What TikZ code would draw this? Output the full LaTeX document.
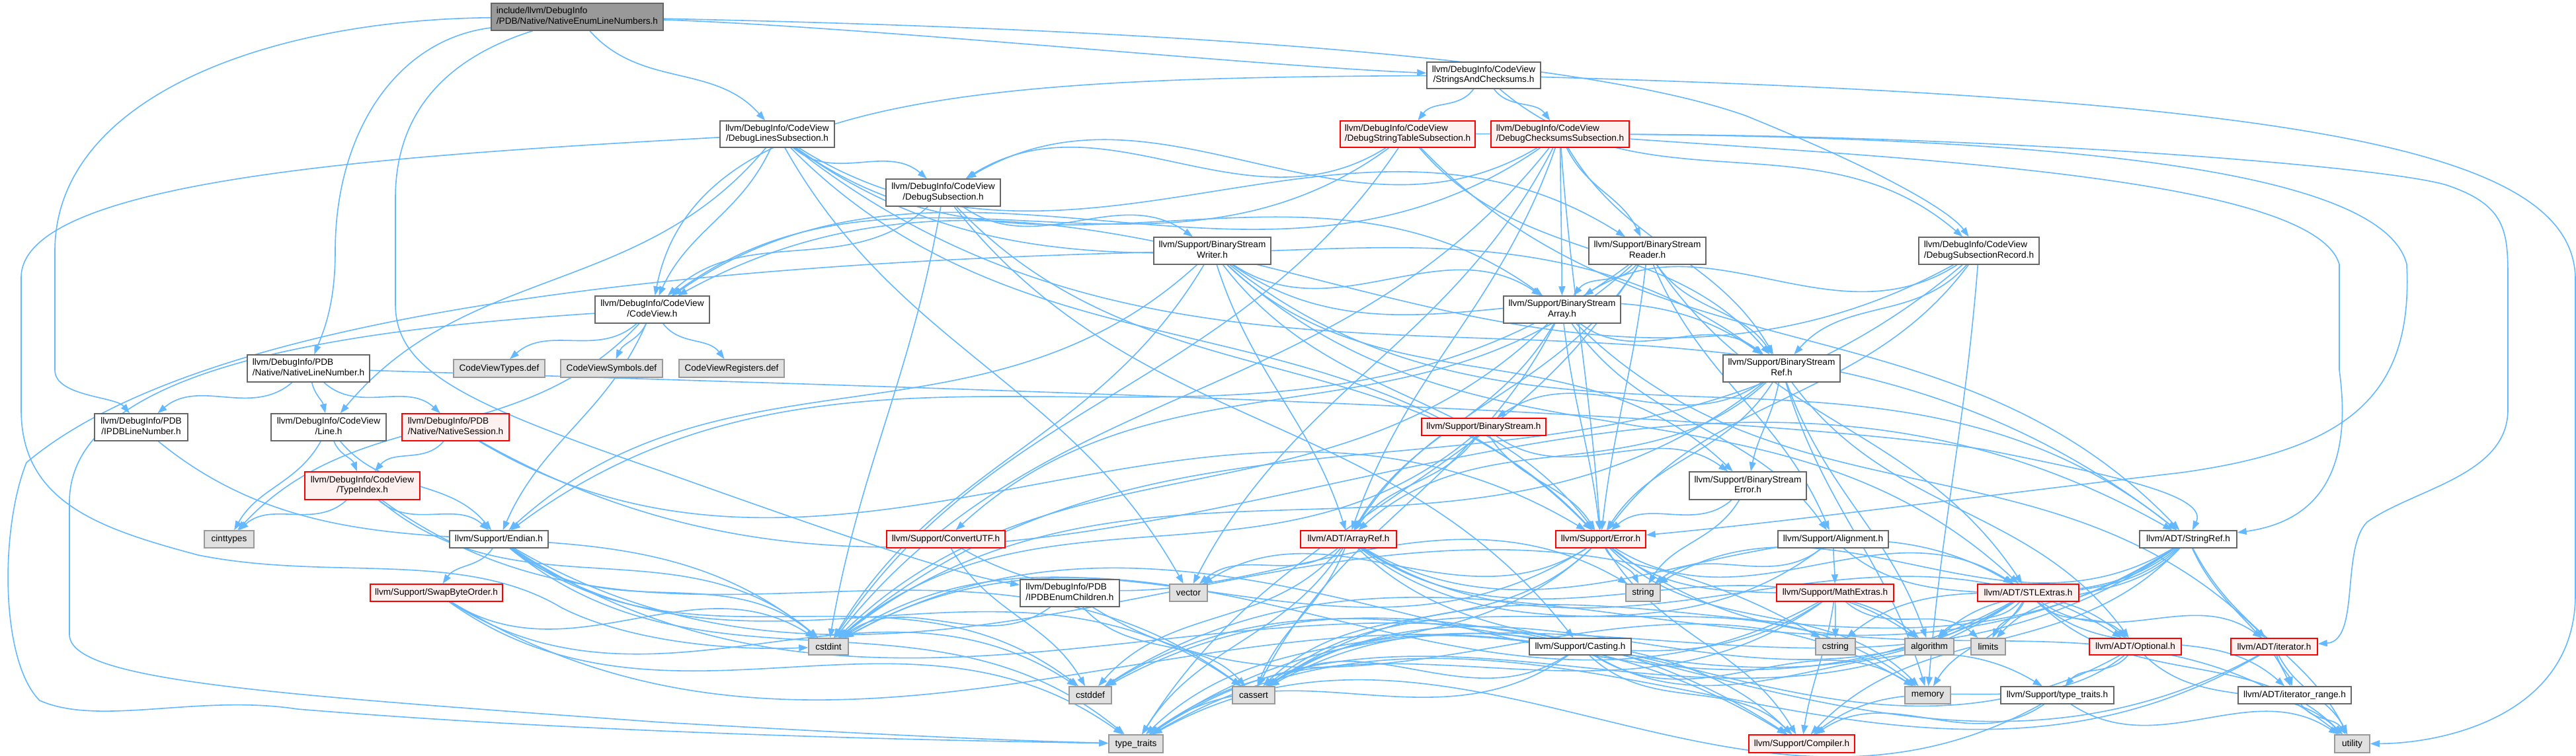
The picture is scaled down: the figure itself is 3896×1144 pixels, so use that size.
\documentclass[tikz,border=0pt]{standalone}
\usepackage{fontspec}
\setmainfont{Liberation Sans}
\usetikzlibrary{arrows.meta}
\definecolor{edgeblue}{HTML}{63B8FF}
\definecolor{redfill}{HTML}{FFF0F0}
\definecolor{grayfill}{HTML}{E0E0E0}
\definecolor{rootfill}{HTML}{999999}
\definecolor{borderdark}{HTML}{666666}
\definecolor{bordergray}{HTML}{999999}
\pgfdeclarelayer{bgwhite}
\pgfdeclarelayer{edges}
\pgfsetlayers{bgwhite,edges,main}
\newdimen\eax \newdimen\eay \newdimen\ebx \newdimen\eby
\newcommand\gedge[3][]{%
  \pgfextractx{\eax}{\pgfpointanchor{#2}{center}}%
  \pgfextracty{\eay}{\pgfpointanchor{#2}{center}}%
  \pgfextractx{\ebx}{\pgfpointanchor{#3}{center}}%
  \pgfextracty{\eby}{\pgfpointanchor{#3}{center}}%
  \pgfmathsetmacro\eang{atan2(\eby-\eay,\ebx-\eax)}%
  \pgfmathsetmacro\eout{0.7*\eang-27}%
  \pgfmathsetmacro\ein{0.7*(\eang+180)+27}%
  \draw[edge] (#2) to[out=\eout,in=\ein,#1] (#3);}
\newcommand\twoline[2]{\begin{tabular}{@{}l@{}}#1\\\multicolumn{1}{@{}c@{}}{#2}\end{tabular}}
\newcommand\gnode[7]{%
  \pgfmathsetmacro\nw{(#5-#3)*0.1}\pgfmathsetmacro\nh{(#6-#4)*0.1}%
  \pgfmathsetmacro\ncx{(#3+#5)/2}\pgfmathsetmacro\ncy{(#4+#6)/2}%
  \node[#1,minimum width=\nw pt,minimum height=\nh pt] (#2) at (\ncx,\ncy) {#7};}
\tikzset{
  nb/.style={draw=borderdark,fill=white,line width=0.15pt,inner sep=0pt,
    font=\fontsize{1.36}{1.55}\selectfont},
  nr/.style={nb,draw=red,fill=redfill},
  ng/.style={nb,draw=bordergray,fill=grayfill},
  nroot/.style={nb,fill=rootfill},
  edge/.style={draw=edgeblue,line width=0.16pt,-{Triangle[length=1.4pt,width=1.0pt]}},
}
\renewcommand\arraystretch{1}
\begin{document}
\begin{tikzpicture}[x=0.1pt,y=-0.1pt]
\useasboundingbox (0,0) rectangle (3896,1144);
\begin{pgfonlayer}{bgwhite}
\fill[white] (0,0) rectangle (3896,1144);
\end{pgfonlayer}
% ---------- nodes
\gnode{nroot}{root}{743}{5}{1003}{46}{\twoline{include/llvm/DebugInfo}{/PDB/Native/NativeEnumLineNumbers.h}}
\gnode{nb}{sac}{2158}{94}{2330}{134}{\twoline{llvm/DebugInfo/CodeView}{/StringsAndChecksums.h}}
\gnode{nb}{dls}{1089}{183}{1262}{223}{\twoline{llvm/DebugInfo/CodeView}{/DebugLinesSubsection.h}}
\gnode{nr}{dsts}{2027}{183}{2231}{223}{\twoline{llvm/DebugInfo/CodeView}{/DebugStringTableSubsection.h}}
\gnode{nr}{dcs}{2255}{183}{2464}{223}{\twoline{llvm/DebugInfo/CodeView}{/DebugChecksumsSubsection.h}}
\gnode{nb}{ds}{1340}{271}{1513}{312}{\twoline{llvm/DebugInfo/CodeView}{/DebugSubsection.h}}
\gnode{nb}{bsw}{1745}{359}{1922}{400}{\twoline{llvm/Support/BinaryStream}{Writer.h}}
\gnode{nb}{bsr}{2403}{359}{2580}{400}{\twoline{llvm/Support/BinaryStream}{Reader.h}}
\gnode{nb}{dsr}{2902}{359}{3084}{400}{\twoline{llvm/DebugInfo/CodeView}{/DebugSubsectionRecord.h}}
\gnode{nb}{cv}{900}{448}{1073}{489}{\twoline{llvm/DebugInfo/CodeView}{/CodeView.h}}
\gnode{nb}{bsa}{2274}{448}{2451}{489}{\twoline{llvm/Support/BinaryStream}{Array.h}}
\gnode{ng}{cvt}{686}{544}{824}{571}{CodeViewTypes.def}
\gnode{ng}{cvs}{848}{544}{1002}{571}{CodeViewSymbols.def}
\gnode{ng}{cvr}{1027}{544}{1186}{571}{CodeViewRegisters.def}
\gnode{nb}{nln}{374}{537}{559}{578}{\twoline{llvm/DebugInfo/PDB}{/Native/NativeLineNumber.h}}
\gnode{nb}{bsref}{2606}{537}{2783}{578}{\twoline{llvm/Support/BinaryStream}{Ref.h}}
\gnode{nb}{ipdbln}{143}{626}{284}{667}{\twoline{llvm/DebugInfo/PDB}{/IPDBLineNumber.h}}
\gnode{nb}{line}{410}{626}{584}{667}{\twoline{llvm/DebugInfo/CodeView}{/Line.h}}
\gnode{nr}{ns}{608}{626}{770}{667}{\twoline{llvm/DebugInfo/PDB}{/Native/NativeSession.h}}
\gnode{nr}{bs}{2150}{633}{2338}{659}{llvm/Support/BinaryStream.h}
\gnode{nr}{ti}{461}{714}{635}{756}{\twoline{llvm/DebugInfo/CodeView}{/TypeIndex.h}}
\gnode{nb}{bse}{2555}{714}{2732}{756}{\twoline{llvm/Support/BinaryStream}{Error.h}}
\gnode{ng}{cint}{309}{803}{384}{829}{cinttypes}
\gnode{nb}{endian}{680}{803}{829}{829}{llvm/Support/Endian.h}
\gnode{nr}{cutf}{1341}{803}{1520}{829}{llvm/Support/ConvertUTF.h}
\gnode{nr}{aref}{1967}{803}{2112}{829}{llvm/ADT/ArrayRef.h}
\gnode{nr}{err}{2353}{803}{2489}{829}{llvm/Support/Error.h}
\gnode{nb}{align}{2689}{803}{2856}{829}{llvm/Support/Alignment.h}
\gnode{nb}{sref}{3236}{803}{3383}{829}{llvm/ADT/StringRef.h}
\gnode{nr}{sbo}{560}{884}{760}{910}{llvm/Support/SwapByteOrder.h}
\gnode{nb}{ipdbec}{1543}{877}{1693}{918}{\twoline{llvm/DebugInfo/PDB}{/IPDBEnumChildren.h}}
\gnode{ng}{vec}{1769}{884}{1826}{910}{vector}
\gnode{ng}{str}{2459}{884}{2511}{910}{string}
\gnode{nr}{mext}{2687}{884}{2864}{910}{llvm/Support/MathExtras.h}
\gnode{nr}{stl}{2991}{884}{3144}{910}{llvm/ADT/STLExtras.h}
\gnode{ng}{cstdint}{1223}{966}{1283}{991}{cstdint}
\gnode{nb}{cast}{2313}{966}{2467}{991}{llvm/Support/Casting.h}
\gnode{ng}{cstring}{2746}{966}{2806}{991}{cstring}
\gnode{ng}{algo}{2881}{966}{2955}{991}{algorithm}
\gnode{ng}{limits}{2981}{966}{3033}{991}{limits}
\gnode{nr}{opt}{3160}{966}{3299}{991}{llvm/ADT/Optional.h}
\gnode{nr}{iter}{3374}{966}{3505}{991}{llvm/ADT/iterator.h}
\gnode{ng}{cstddef}{1617}{1039}{1681}{1065}{cstddef}
\gnode{ng}{cassert}{1864}{1039}{1928}{1065}{cassert}
\gnode{ng}{memory}{2881}{1039}{2950}{1065}{memory}
\gnode{nb}{stt}{3026}{1039}{3197}{1065}{llvm/Support/type\_traits.h}
\gnode{nb}{irange}{3385}{1039}{3556}{1065}{llvm/ADT/iterator\_range.h}
\gnode{ng}{tt}{1677}{1112}{1759}{1139}{type\_traits}
\gnode{nr}{comp}{2645}{1112}{2805}{1139}{llvm/Support/Compiler.h}
\gnode{ng}{util}{3531}{1112}{3584}{1139}{utility}
% ---------- edges
\begin{pgfonlayer}{edges}
% root
\gedge{root}{dls}
\draw[edge] (root) .. controls (1300,40) and (1900,100) .. (sac);
\draw[edge] (root) .. controls (400,30) and (83,150) .. (83,380) -- (83,560) .. controls (83,600) and (175,600) .. (ipdbln);
\draw[edge] (root) .. controls (600,60) and (507,200) .. (507,380) .. controls (507,460) and (490,500) .. (nln);
\draw[edge] (root) .. controls (700,80) and (598,150) .. (598,300) -- (598,460) .. controls (598,560) and (700,610) .. (1000,713) .. controls (1300,820) and (1450,870) .. (ipdbec);
\draw[edge] (root) .. controls (1800,45) and (2400,90) .. (2640,175) .. controls (2850,260) and (2950,320) .. (dsr);
% sac
\gedge{sac}{dsts}
\gedge{sac}{dcs}
\draw[edge] (sac) .. controls (1500,118) and (1050,140) .. (cv);
\gedge{sac}{dsr}
\draw[edge] (sac) .. controls (3500,150) and (3890,230) .. (3895,420) -- (3895,900) .. controls (3895,1080) and (3700,1125) .. (util);
% dls
\gedge{dls}{cv}
\gedge{dls}{ds}
\gedge{dls}{line}
\gedge{dls}{bsa}
\gedge{dls}{bsr}
\gedge{dls}{bsref}
\gedge{dls}{err}
\gedge{dls}{sref}
\gedge{dls}{vec}
\draw[edge] (dls) .. controls (600,235) and (32,270) .. (32,420) -- (32,620) .. controls (32,760) and (150,800) .. (300,840) .. controls (500,880) and (700,830) .. (850,920) .. controls (950,970) and (1100,985) .. (cstdint);
% dsts
\gedge{dsts}{cv}
\gedge{dsts}{ds}
\gedge{dsts}{bsref}
\gedge{dsts}{sref}
\gedge{dsts}{cstdint}
\draw[edge] (dsts) .. controls (3000,200) and (3600,240) .. (3640,400) .. controls (3650,600) and (3550,680) .. (3300,715) .. controls (3000,750) and (2700,790) .. (err);
% dcs
\gedge{dcs}{aref}
\gedge{dcs}{cv}
\gedge{dcs}{ds}
\gedge{dcs}{bsa}
\gedge{dcs}{bsr}
\gedge{dcs}{bsref}
\gedge{dcs}{err}
\gedge{dcs}{cstdint}
\gedge{dcs}{vec}
\draw[edge] (dcs) .. controls (2900,240) and (3500,270) .. (3538,400) -- (3538,560) .. controls (3560,720) and (3500,790) .. (sref);
\draw[edge] (dcs) .. controls (3000,205) and (3600,250) .. (3700,280) .. controls (3790,310) and (3793,350) .. (3793,420) -- (3793,620) .. controls (3793,720) and (3650,740) .. (3580,790) .. controls (3540,830) and (3570,970) .. (iter);
% ds
\gedge{ds}{cv}
\gedge{ds}{bsw}
\gedge{ds}{cast}
\gedge{ds}{err}
\gedge{ds}{cstdint}
% bsw
\gedge{bsw}{aref}
\gedge{bsw}{stl}
\gedge{bsw}{sref}
\gedge{bsw}{bsa}
\gedge{bsw}{bse}
\gedge{bsw}{bsref}
\gedge{bsw}{endian}
\gedge{bsw}{err}
\gedge{bsw}{cstdint}
\draw[edge] (bsw) .. controls (1000,400) and (300,480) .. (40,700) .. controls (0,800) and (0,1000) .. (60,1060) .. controls (150,1100) and (300,1050) .. (450,1073) .. controls (900,1110) and (1400,1120) .. (tt);
% bsr
\gedge{bsr}{aref}
\gedge{bsr}{stl}
\gedge{bsr}{align}
\gedge{bsr}{bsa}
\gedge{bsr}{bsref}
\gedge{bsr}{cutf}
\gedge{bsr}{endian}
\gedge{bsr}{err}
\gedge{bsr}{tt}
% dsr
\gedge{dsr}{cv}
\gedge{dsr}{bsa}
\gedge{dsr}{bsref}
\gedge{dsr}{err}
\gedge{dsr}{cstdint}
\gedge{dsr}{memory}
% cv
\gedge{cv}{cint}
\gedge{cv}{endian}
\gedge{cv}{cvt}
\gedge{cv}{cvs}
\gedge{cv}{cvr}
\draw[edge] (cv) .. controls (500,500) and (105,560) .. (105,760) -- (105,960) .. controls (105,1030) and (400,1050) .. (1000,1093) .. controls (1300,1110) and (1500,1120) .. (tt);
% bsa
\gedge{bsa}{aref}
\gedge{bsa}{iter}
\gedge{bsa}{align}
\gedge{bsa}{bsref}
\gedge{bsa}{err}
\gedge{bsa}{cassert}
\gedge{bsa}{cstdint}
% nln
\gedge{nln}{line}
\gedge{nln}{ipdbln}
\gedge{nln}{ns}
\draw[edge] (nln) .. controls (1500,590) and (2600,620) .. (3000,680) .. controls (3200,720) and (3340,750) .. (sref);
% bsref
\gedge{bsref}{aref}
\gedge{bsref}{bs}
\gedge{bsref}{bse}
\gedge{bsref}{err}
\gedge{bsref}{algo}
\gedge{bsref}{cstdint}
\gedge{bsref}{memory}
\gedge{bsref}{opt}
% others
\gedge{ipdbln}{cstdint}
\gedge{line}{ti}
\gedge{line}{endian}
\gedge{line}{cint}
\gedge{ns}{ti}
\gedge{ns}{sref}
\gedge{ns}{err}
\gedge{bs}{aref}
\gedge{bs}{bse}
\gedge{bs}{err}
\gedge{bs}{cstdint}
\gedge{ti}{cint}
\gedge{ti}{endian}
\gedge{ti}{cassert}
\gedge{ti}{cstdint}
\gedge{bse}{err}
\gedge{bse}{str}
\gedge{endian}{sbo}
\gedge{endian}{comp}
\gedge{endian}{cassert}
\gedge{endian}{cstddef}
\gedge{endian}{cstdint}
\gedge{endian}{cstring}
\gedge{endian}{tt}
\gedge{cutf}{cstddef}
\gedge{cutf}{str}
\gedge{aref}{stl}
\gedge{aref}{comp}
\gedge{aref}{algo}
\gedge{aref}{cassert}
\gedge{aref}{cstddef}
\gedge{aref}{memory}
\gedge{aref}{tt}
\gedge{aref}{vec}
\gedge{aref}{opt}
\gedge{err}{stl}
\gedge{err}{comp}
\gedge{err}{algo}
\gedge{err}{cassert}
\gedge{err}{cstdint}
\gedge{err}{memory}
\gedge{err}{str}
\gedge{err}{tt}
\gedge{err}{util}
\gedge{err}{vec}
\gedge{align}{mext}
\gedge{align}{cassert}
\gedge{align}{opt}
\gedge{align}{str}
\gedge{sref}{irange}
\gedge{sref}{comp}
\gedge{sref}{algo}
\gedge{sref}{cassert}
\gedge{sref}{cstddef}
\gedge{sref}{cstring}
\gedge{sref}{limits}
\gedge{sref}{str}
\gedge{sref}{tt}
\gedge{sref}{util}
\gedge{sbo}{comp}
\gedge{sbo}{cstddef}
\gedge{sbo}{cstdint}
\gedge{sbo}{tt}
\gedge{ipdbec}{cassert}
\gedge{ipdbec}{cstdint}
\gedge{ipdbec}{memory}
\gedge{mext}{comp}
\gedge{mext}{cassert}
\gedge{mext}{cstdint}
\gedge{mext}{cstring}
\gedge{mext}{limits}
\gedge{mext}{tt}
\gedge{stl}{opt}
\gedge{stl}{iter}
\gedge{stl}{irange}
\gedge{stl}{algo}
\gedge{stl}{cassert}
\gedge{stl}{cstddef}
\gedge{stl}{cstdint}
\gedge{stl}{limits}
\gedge{stl}{memory}
\gedge{stl}{tt}
\gedge{stl}{util}
\gedge{cast}{comp}
\gedge{cast}{stt}
\gedge{cast}{cassert}
\gedge{cast}{memory}
\gedge{cast}{tt}
\gedge{opt}{comp}
\gedge{opt}{stt}
\gedge{opt}{cassert}
\gedge{opt}{util}
\gedge{iter}{irange}
\gedge{iter}{cstddef}
\gedge{iter}{tt}
\gedge{iter}{util}
\gedge{irange}{util}
\gedge{stt}{comp}
\gedge{stt}{tt}
\gedge{stt}{util}
\end{pgfonlayer}
\end{tikzpicture}
\end{document}
